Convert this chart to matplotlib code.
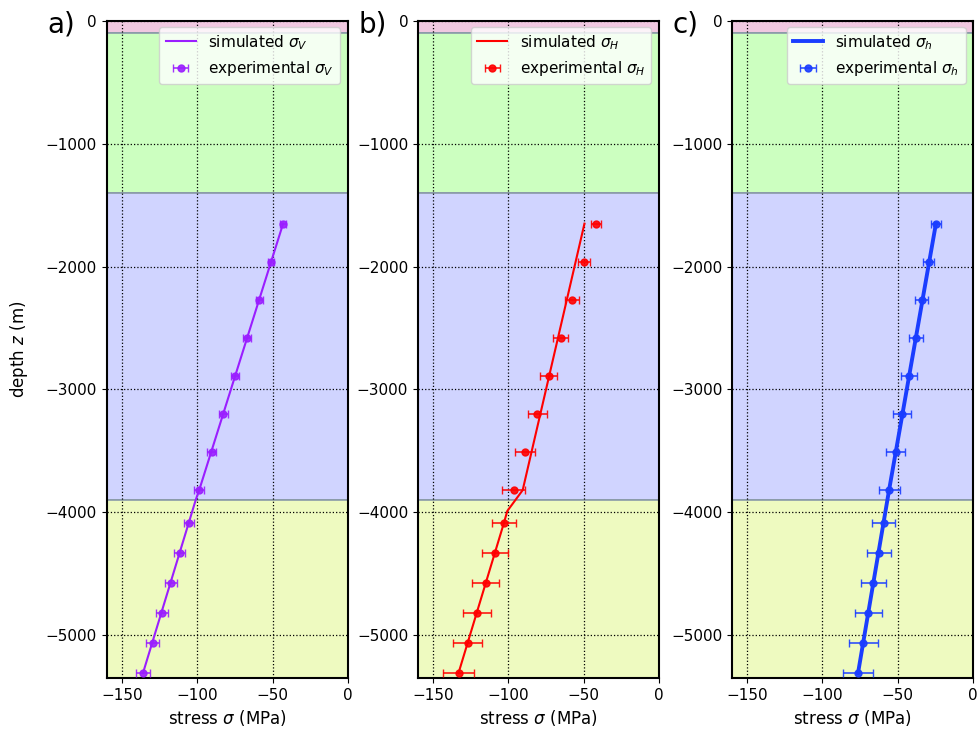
import matplotlib.pyplot as plt

# === Daten ===
depth_exp = [-1650, -1960, -2270, -2580, -2890, -3200, -3510, -3820,
             -4085, -4330, -4575, -4820, -5065, -5310]

sv_exp = [-43.0, -51.0, -58.7, -66.9, -75.0, -82.8, -90.5, -98.7,
          -105.5, -111.5, -117.4, -123.4, -129.6, -136.0]
sv_err = [2.0, 2.2, 2.4, 2.6, 2.8, 3.0, 3.2, 3.4,
          3.5, 3.7, 3.9, 4.1, 4.3, 4.5]
sv_sim_depth = [-1650, -3820, -3900, -5310]
sv_sim = [-43.0, -98.7, -101.0, -136.0]

sh_exp = [-41.8, -49.8, -57.8, -65.3, -73.1, -80.7, -88.9, -96.5,
          -102.9, -108.9, -114.9, -120.9, -127.1, -133.1]
sh_err = [3.3, 3.9, 4.5, 5.1, 5.7, 6.3, 6.9, 7.5,
          8.0, 8.5, 9.0, 9.4, 9.8, 10.2]
sh_sim_depth = [-1650, -3820, -3990, -4085, -5310]
sh_sim = [-49.5, -90.5, -100.7, -102.9, -133.1]

shmin_exp = [-24.7, -29.6, -34.0, -37.8, -42.7, -47.1, -51.3, -55.8,
             -59.3, -62.7, -66.2, -69.5, -72.9, -76.4]
shmin_err = [3.3, 3.8, 4.3, 4.8, 5.3, 5.9, 6.4, 7.0,
             7.5, 8.0, 8.5, 9.0, 9.5, 10.0]
shmin_sim_depth = [-1650, -3820, -5310]
shmin_sim = [-24.7, -55.8, -76.4]

# Schichten (Tiefe oben, Tiefe unten, Farbe)
schichten = [
    (0, -100, "#f0c8e0"),
    (-100, -1400, "#ccffc0"),
    (-1400, -3900, "#d0d4ff"),
    (-3900, -5350, "#eefac0"),
]

panels = [
    ("a)", sv_sim_depth, sv_sim, sv_exp, sv_err, "#9a1eff", 1.5, "V"),
    ("b)", sh_sim_depth, sh_sim, sh_exp, sh_err, "#ff0000", 1.5, "H"),
    ("c)", shmin_sim_depth, shmin_sim, shmin_exp, shmin_err, "#1a3dff", 2.8, "h"),
]

plt.rcParams["font.size"] = 11

fig = plt.figure(figsize=(9.8, 7.38), dpi=100)
lefts = [0.109, 0.4265, 0.747]
breite = 0.246

for i, (tag, sdep, ssim, sexp, serr, farbe, lw, idx) in enumerate(panels):
    ax = fig.add_axes([lefts[i], 0.0813, breite, 0.8902])
    for top, bot, c in schichten:
        ax.axhspan(bot, top, facecolor=c, edgecolor="#8a9aa8", linewidth=1.2, zorder=0)
    ax.plot(ssim, sdep, color=farbe, linewidth=lw, label=r"simulated $\sigma_%s$" % idx, zorder=3)
    ax.errorbar(sexp, depth_exp, xerr=serr, fmt="o", color=farbe, markersize=5,
                ecolor=farbe, elinewidth=1.2, capsize=3, alpha=0.9,
                label=r"experimental $\sigma_%s$" % idx, zorder=4)
    ax.set_xlim(-160, 0)
    ax.set_ylim(-5350, 0)
    ax.set_xticks([-150, -100, -50, 0])
    ax.set_yticks([0, -1000, -2000, -3000, -4000, -5000])
    ax.grid(True, color="black", linestyle=":", linewidth=0.9)
    ax.set_axisbelow(False)
    for sp in ax.spines.values():
        sp.set_linewidth(1.5)
    ax.set_xlabel(r"stress $\sigma$ (MPa)", fontsize=12)
    if i == 0:
        ax.set_ylabel(r"depth $z$ (m)", fontsize=12)
        ax.yaxis.set_label_coords(-0.32, 0.5)
    ax.legend(loc="upper right", bbox_to_anchor=(1.0, 1.003), fontsize=11)
    fig.text(lefts[i] - 0.061, 0.967, tag, fontsize=20, va="center")

plt.savefig("out.png", dpi=100)
